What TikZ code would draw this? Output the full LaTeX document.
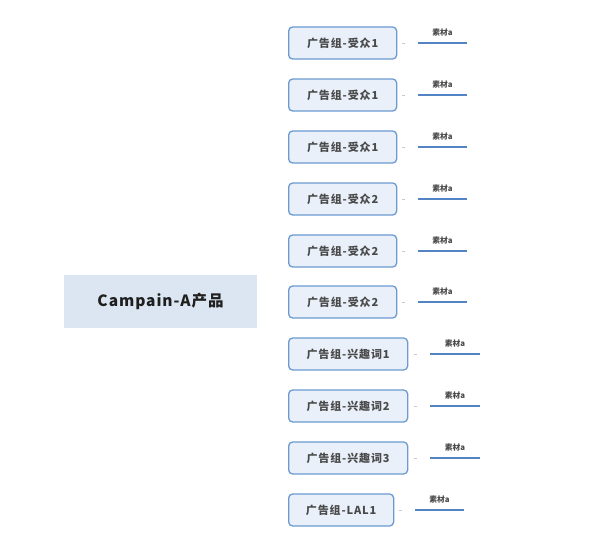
\documentclass[tikz,border=0pt]{standalone}
\usepackage{fontspec}
\setmainfont{Noto Sans CJK SC}
\definecolor{rootfill}{HTML}{DCE6F2}
\definecolor{boxfill}{HTML}{E9F0F9}
\definecolor{boxline}{HTML}{6C9AD0}
\definecolor{leafline}{HTML}{5283C4}
\definecolor{txt}{HTML}{4A4A4A}
\definecolor{dashgray}{HTML}{C8C8C8}
\begin{document}
\begin{tikzpicture}[x=1pt,y=-1pt,
  rootbox/.style={fill=rootfill,minimum width=193pt,minimum height=53pt,inner sep=0pt,font=\fontsize{15.5}{17}\selectfont\bfseries\addfontfeature{LetterSpace=6},text=black!88},
  adbox/.style={draw=boxline,fill=boxfill,line width=1.3pt,rounded corners=4pt,minimum height=32pt,inner sep=0pt,anchor=west,font=\fontsize{11}{13}\selectfont\bfseries\addfontfeature{LetterSpace=8},text=txt},
  leaf/.style={draw=leafline,line width=1.8pt},
  tick/.style={draw=dashgray,line width=0.8pt},
  leaflabel/.style={font=\fontsize{7.8}{9}\selectfont\bfseries,text=txt,inner sep=0pt}]
\useasboundingbox (0,0) rectangle (591,543);
\node[rootbox] (root) at (160.5,301.5) {Campain-A产品};
\foreach \i/\y/\w/\t/\ds/\ls/\le in {
  1/43/108/广告组-受众1/402/418/467,
  2/95/108/广告组-受众1/402/418/467,
  3/147/108/广告组-受众1/402/418/467,
  4/199/108/广告组-受众2/402/418/467,
  5/251/108/广告组-受众2/402/418/467,
  6/302/108/广告组-受众2/402/418/467,
  7/354/119/广告组-兴趣词1/414/430/480,
  8/406/119/广告组-兴趣词2/414/430/480,
  9/458/119/广告组-兴趣词3/414/430/480,
  10/510/105/广告组-LAL1/399/415/464}{
  \node[adbox,minimum width=\w pt] (b\i) at (288,\y) {\t};
  \coordinate (d\i a) at (\ds,\y);
  \coordinate (d\i b) at (\ds+3,\y);
  \draw[tick] (d\i a) -- (d\i b);
  \coordinate (l\i a) at (\ls,\y);
  \coordinate (l\i b) at (\le,\y);
  \draw[leaf] (l\i a) -- (l\i b);
  \node[leaflabel] (t\i) at ({(\ls+\le)/2},\y-10) {素材a};
}
\end{tikzpicture}
\end{document}
